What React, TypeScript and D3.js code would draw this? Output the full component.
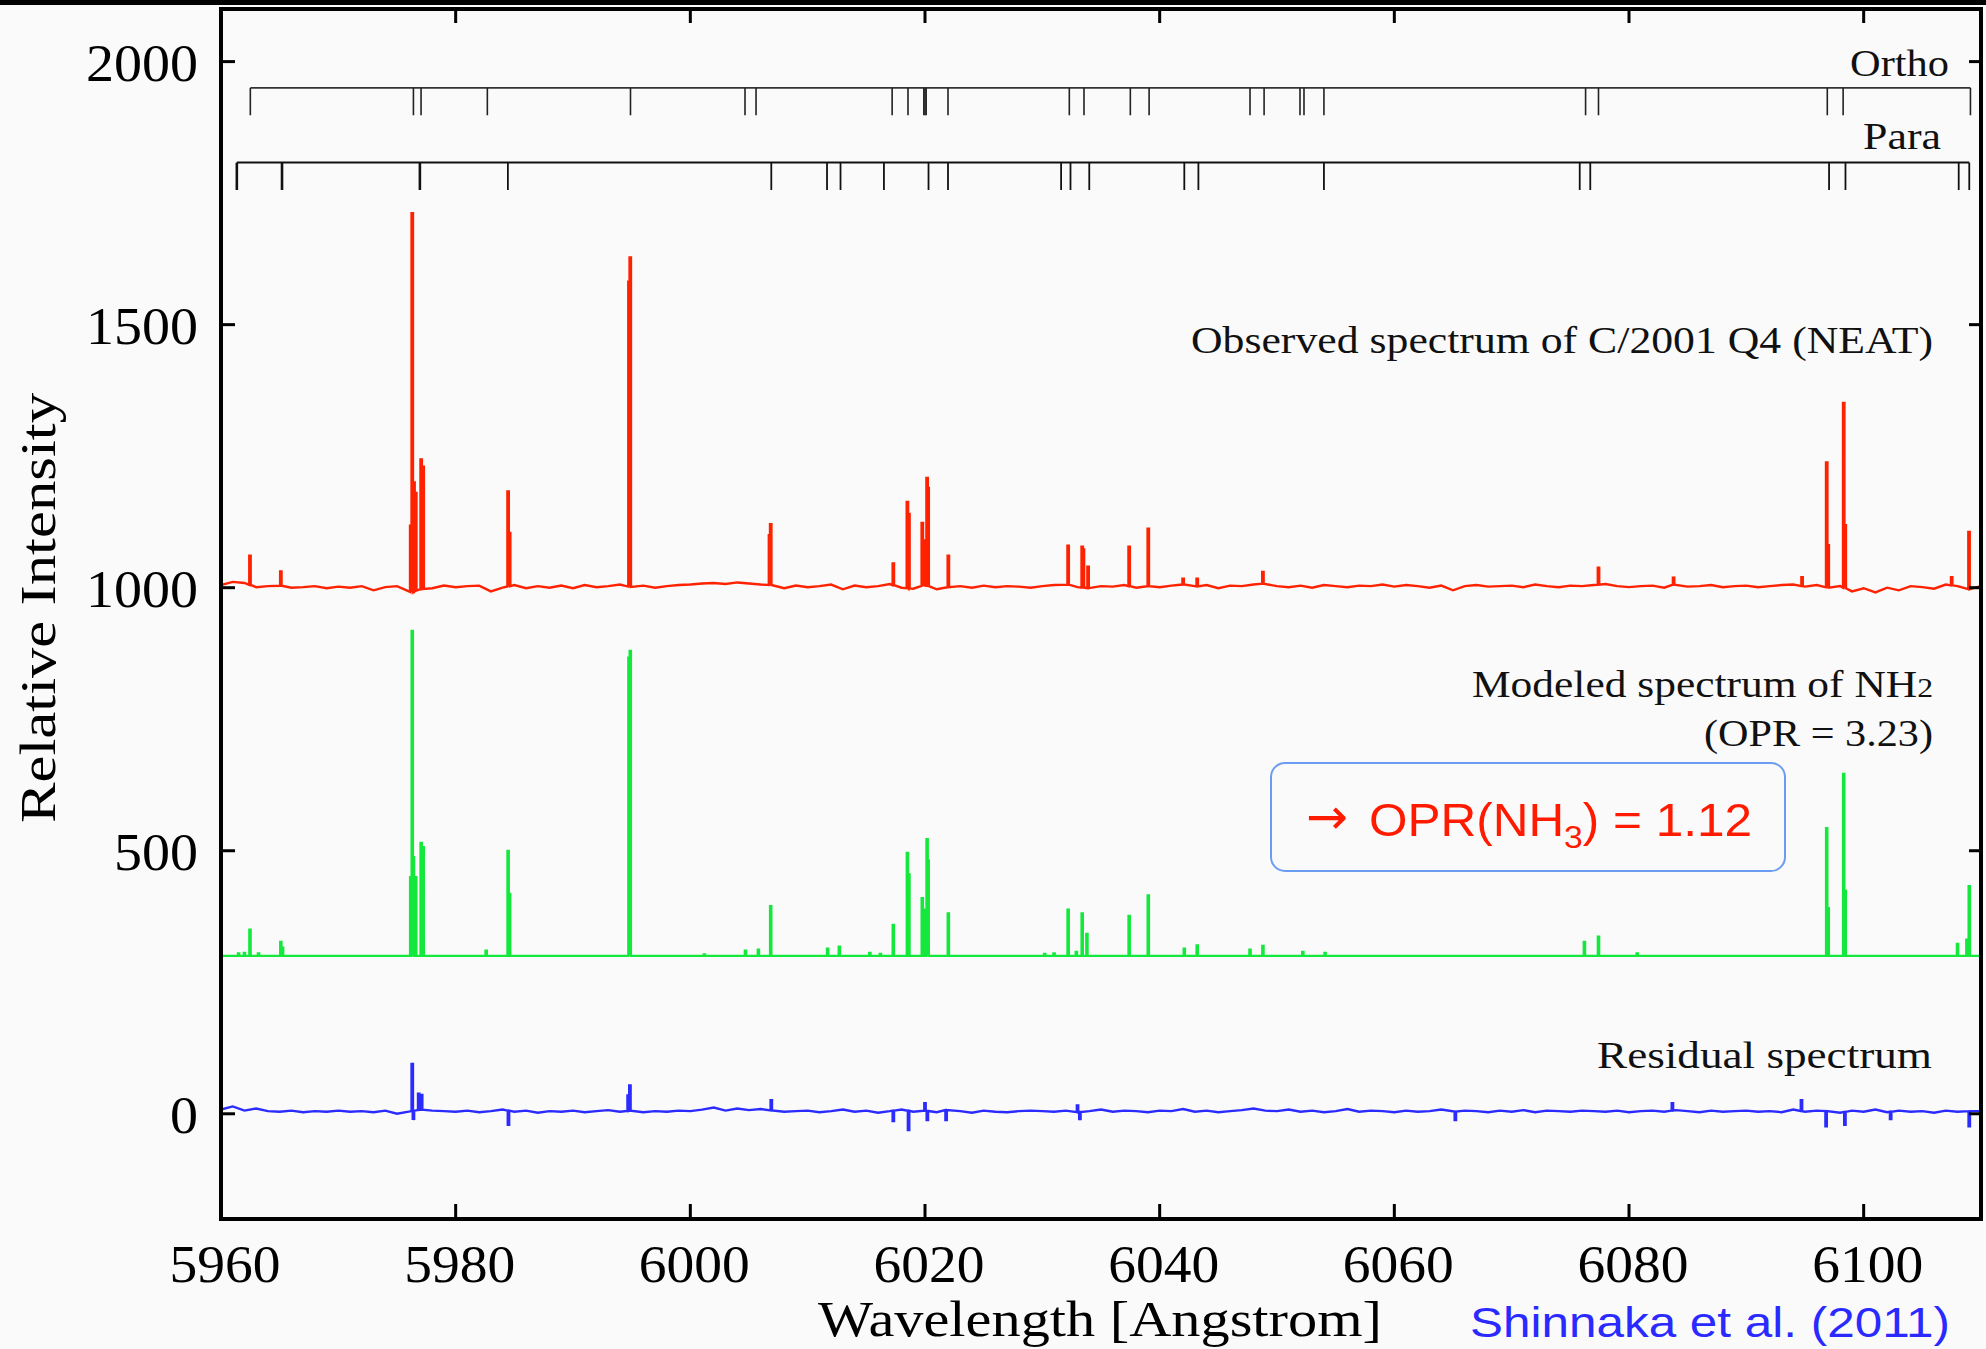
import React from "react";
import * as d3 from "d3";

const W = 1986;
const H = 1349;

const X_DOMAIN: [number, number] = [5960, 6110];
const Y_DOMAIN: [number, number] = [-200, 2100];
const xTicks = [5960, 5980, 6000, 6020, 6040, 6060, 6080, 6100];
const yTicks = [0, 500, 1000, 1500, 2000];

// Line identifications (Angstrom)
const orthoLines = [5962.5, 5976.4, 5977.05, 5982.7, 5994.9, 6004.66, 6005.6, 6017.2, 6018.55, 6019.9, 6020.0, 6020.1, 6021.96, 6032.3, 6033.55, 6037.5, 6039.1, 6047.7, 6048.9, 6051.96, 6052.3, 6054.0, 6076.3, 6077.4, 6096.9, 6098.25, 6109.1];
const paraLines = [5961.35, 5965.2, 5976.95, 5984.45, 6006.9, 6011.65, 6012.8, 6016.5, 6020.3, 6021.96, 6031.6, 6032.4, 6034.0, 6042.1, 6043.3, 6054.0, 6075.8, 6076.7, 6097.05, 6098.45, 6108.1, 6109.0];
const ORTHO_LEVEL = 1950;
const PARA_LEVEL = 1808;
const MARK_DEPTH = 52;

// Observed spectrum (red): emission peaks
const obsPeakWave = [5962.47, 5965.1, 5976.17, 5976.3, 5976.45, 5976.6, 5977.06, 5977.23, 5984.47, 5984.6, 5994.77, 5994.88, 6006.75, 6006.85, 6017.3, 6018.5, 6018.63, 6019.77, 6019.9, 6020.18, 6020.27, 6021.99, 6032.2, 6033.4, 6033.5, 6033.9, 6037.4, 6039.03, 6042.0, 6043.2, 6048.8, 6077.4, 6083.8, 6094.75, 6096.85, 6096.98, 6098.3, 6098.43, 6107.5, 6108.98];
const obsPeakVal = [1061, 1031, 1118, 1712, 1200, 1180, 1244, 1230, 1183, 1104, 1584, 1630, 1102, 1123, 1046, 1163, 1140, 1123, 1090, 1211, 1192, 1061, 1080, 1080, 1075, 1040, 1078, 1112, 1017, 1017, 1030, 1038, 1019, 1020, 1238, 1081, 1351, 1119, 1020, 1106];
// Observed continuum, sampled every 1 A from 5960 to 6110
const obsContinuum = [
  1005, 1011, 1009, 1001, 1003, 1004, 1000, 1001, 1003, 999,
  1002, 1000, 1003, 995, 1001, 1003, 991, 997, 999, 1004,
  1001, 1003, 1004, 993, 1000, 1005, 999, 1003, 1000, 1004,
  999, 1005, 1001, 1003, 1006, 1001, 1004, 1000, 1003, 1005,
  1006, 1008, 1009, 1007, 1010, 1008, 1006, 1005, 999, 1004,
  1001, 1003, 1006, 997, 1004, 1001, 1003, 1007, 1000, 998,
  1005, 997, 1001, 1003, 1000, 1004, 1001, 1003, 1002, 1000,
  1003, 1005, 1007, 1001, 999, 1003, 1002, 1005, 1000, 1003,
  1001, 1004, 1006, 1002, 1005, 999, 1004, 1003, 1006, 1008,
  1003, 1001, 1004, 1000, 1005, 1003, 1001, 1004, 1003, 1006,
  1002, 1005, 1003, 1000, 1004, 995, 1003, 1005, 1002, 1003,
  1004, 1001, 1006, 1003, 1001, 1004, 1003, 1005, 1007, 1003,
  1001, 1003, 1004, 1000, 1007, 1002, 1003, 1005, 1001, 1003,
  1004, 1001, 1003, 1005, 1006, 1002, 1005, 1000, 1003, 993,
  999, 991, 1000, 995, 1003, 1001, 998, 1006, 1003, 997,
  1003,
];

// Modeled NH2 spectrum (green)
const modPeakWave = [5961.5, 5962.0, 5962.47, 5963.2, 5965.1, 5965.25, 5976.17, 5976.3, 5976.4, 5976.6, 5977.06, 5977.23, 5982.6, 5984.47, 5984.6, 5994.77, 5994.88, 6001.2, 6004.7, 6005.8, 6006.85, 6011.7, 6012.7, 6015.3, 6016.2, 6017.3, 6018.5, 6018.63, 6019.77, 6019.97, 6020.18, 6020.27, 6021.99, 6030.2, 6031.0, 6032.2, 6032.9, 6033.4, 6033.8, 6037.4, 6039.03, 6042.1, 6043.2, 6047.7, 6048.8, 6052.2, 6054.1, 6076.2, 6077.4, 6080.7, 6096.85, 6096.98, 6098.3, 6098.43, 6108.0, 6108.8, 6109.0];
const modPeakVal = [305, 306, 350, 305, 327, 316, 450, 920, 490, 450, 515, 507, 310, 500, 418, 869, 882, 303, 310, 312, 395, 314, 318, 306, 304, 359, 496, 455, 410, 388, 524, 484, 381, 304, 305, 388, 308, 381, 342, 376, 415, 314, 320, 312, 319, 308, 306, 327, 337, 305, 543, 391, 646, 424, 323, 331, 433];
const modContinuumWave = [5960, 6110];
const modContinuum = [300, 300];

// Residual spectrum (blue)
const resPeakWave = [5976.3, 5976.4, 5976.85, 5977.1, 5984.5, 5994.7, 5994.85, 6006.9, 6017.3, 6018.6, 6020.0, 6020.2, 6021.8, 6033.0, 6033.2, 6065.2, 6083.7, 6094.7, 6096.8, 6098.4, 6102.3, 6109.0];
const resPeakVal = [97, -12, 38, 36, -21, 35, 54, 26, -14, -31, 20, -12, -12, 16, -10, -12, 20, 26, -24, -21, -10, -24];
const resContinuum = [
  8, 14, 6, 10, 5, 4, 6, 3, 5, 4,
  6, 4, 5, 3, 6, 0, 4, 8, 6, 5,
  4, 6, 3, 5, 8, 4, 6, 2, 5, 4,
  6, 3, 5, 7, 4, 6, 3, 5, 4, 6,
  5, 8, 12, 6, 10, 7, 9, 6, 4, 5,
  6, 3, 5, 8, 4, 6, 2, 5, 8, 4,
  6, 3, 8, 5, 2, 6, 4, 3, 5, 6,
  5, 4, 6, 3, 5, 8, 4, 6, 5, 3,
  6, 5, 9, 4, 6, 3, 5, 7, 10, 6,
  5, 8, 4, 6, 3, 5, 9, 4, 6, 5,
  3, 6, 4, 5, 8, 4, 6, 5, 3, 6,
  4, 7, 3, 6, 5, 4, 6, 5, 4, 6,
  3, 5, 6, 4, 7, 5, 3, 6, 4, 5,
  6, 4, 5, 3, 8, 4, 6, 5, 2, 6,
  4, 8, 3, 6, 4, 5, 2, 6, 4, 5,
  5,
];
const continuumWave = d3.range(5960, 6111, 1);

const SERIF = "'Liberation Serif', 'Times New Roman', Times, serif";
const SANS = "'Liberation Sans', Arial, Helvetica, sans-serif";

function buildSeries(
  contW: number[],
  contV: number[],
  peakW: number[],
  peakV: number[],
  half: number
): [number, number][] {
  const base = d3.scaleLinear().domain(contW).range(contV).clamp(true);
  const pts: [number, number][] = [];
  contW.forEach((w, i) => {
    if (!peakW.some((p) => Math.abs(p - w) < 0.25)) pts.push([w, contV[i]]);
  });
  peakW.forEach((w, i) => {
    const b = base(w);
    pts.push([w - half, b], [w - half, peakV[i]], [w + half, peakV[i]], [w + half, b]);
  });
  return pts
    .map((p, i) => ({ p, i }))
    .sort((a, b) => a.p[0] - b.p[0] || a.i - b.i)
    .map((d) => d.p);
}

export default function App() {
  const x = d3.scaleLinear().domain(X_DOMAIN).range([221, 1981]);
  const y = d3.scaleLinear().domain(Y_DOMAIN).range([1219, 9]);
  const line = d3
    .line<[number, number]>()
    .x((d) => x(d[0]))
    .y((d) => y(d[1]));

  const obs = buildSeries(continuumWave, obsContinuum, obsPeakWave, obsPeakVal, 0.06);
  const mod = buildSeries(modContinuumWave, modContinuum, modPeakWave, modPeakVal, 0.06);
  const res = buildSeries(continuumWave, resContinuum, resPeakWave, resPeakVal, 0.06);

  const [x0, x1] = x.range();
  const [yb, yt] = y.range();

  return (
    <svg
      width={W}
      height={H}
      style={{ position: "absolute", left: 0, top: 0, display: "block" }}
    >
      <rect x={0} y={0} width={W} height={H} fill="#fafafa" />
      <rect x={0} y={0} width={W} height={5} fill="#000" />
      <defs>
        <clipPath id="plotclip">
          <rect x={x0} y={yt} width={x1 - x0} height={yb - yt} />
        </clipPath>
      </defs>

      {/* Ortho / Para identifications */}
      <g>
        <line
          x1={x(orthoLines[0])}
          x2={x(orthoLines[orthoLines.length - 1])}
          y1={y(ORTHO_LEVEL)}
          y2={y(ORTHO_LEVEL)}
          stroke="#333"
          strokeWidth={1.8}
        />
        {orthoLines.map((w, i) => (
          <line
            key={"o" + i}
            x1={x(w)}
            x2={x(w)}
            y1={y(ORTHO_LEVEL)}
            y2={y(ORTHO_LEVEL - MARK_DEPTH)}
            stroke="#222"
            strokeWidth={1.6}
          />
        ))}
        <line
          x1={x(paraLines[0])}
          x2={x(paraLines[paraLines.length - 1])}
          y1={y(PARA_LEVEL)}
          y2={y(PARA_LEVEL)}
          stroke="#111"
          strokeWidth={2}
        />
        {paraLines.map((w, i) => (
          <line
            key={"p" + i}
            x1={x(w)}
            x2={x(w)}
            y1={y(PARA_LEVEL)}
            y2={y(PARA_LEVEL - MARK_DEPTH)}
            stroke="#111"
            strokeWidth={i < 3 ? 2.6 : 1.8}
          />
        ))}
      </g>

      {/* Spectra */}
      <g clipPath="url(#plotclip)" fill="none" strokeLinejoin="miter">
        <path d={line(obs) || ""} stroke="#ff2200" strokeWidth={2.4} />
        <path d={line(mod) || ""} stroke="#14e83c" strokeWidth={2.2} />
        <path d={line(res) || ""} stroke="#2b2bff" strokeWidth={2.4} />
      </g>

      {/* Frame */}
      <rect
        x={x0}
        y={yt}
        width={x1 - x0}
        height={yb - yt}
        fill="none"
        stroke="#000"
        strokeWidth={4}
      />
      {xTicks.slice(1).map((t) => (
        <g key={"xt" + t}>
          <line x1={x(t)} x2={x(t)} y1={yb} y2={yb - 15} stroke="#000" strokeWidth={3} />
          <line x1={x(t)} x2={x(t)} y1={yt} y2={yt + 14} stroke="#000" strokeWidth={3} />
        </g>
      ))}
      {yTicks.map((t) => (
        <g key={"yt" + t}>
          <line x1={x0} x2={x0 + 14} y1={y(t)} y2={y(t)} stroke="#000" strokeWidth={3} />
          <line x1={x1} x2={x1 - 12} y1={y(t)} y2={y(t)} stroke="#000" strokeWidth={3} />
        </g>
      ))}

      {/* tick labels */}
      <g fontFamily={SERIF} fontSize={53} fill="#000">
        {xTicks.map((t) => (
          <text key={"xl" + t} x={x(t) + 4} y={1282} textAnchor="middle" textLength={111} lengthAdjust="spacingAndGlyphs">
            {t}
          </text>
        ))}
        {yTicks.map((t) => (
          <text
            key={"yl" + t}
            x={198}
            y={y(t) + 19}
            textAnchor="end"
            textLength={String(t).length * 28}
            lengthAdjust="spacingAndGlyphs"
          >
            {t}
          </text>
        ))}
      </g>

      {/* axis titles */}
      <text
        x={1100}
        y={1336}
        textAnchor="middle"
        fontFamily={SERIF}
        fontSize={50}
        textLength={564}
        lengthAdjust="spacingAndGlyphs"
      >
        Wavelength [Angstrom]
      </text>
      <text
        transform="translate(55,608) rotate(-90)"
        textAnchor="middle"
        fontFamily={SERIF}
        fontSize={50}
        textLength={430}
        lengthAdjust="spacingAndGlyphs"
      >
        Relative Intensity
      </text>

      {/* annotations */}
      <g fontFamily={SERIF} fontSize={37} fill="#111" textAnchor="end">
        <text x={1949} y={76} textLength={99} lengthAdjust="spacingAndGlyphs">Ortho</text>
        <text x={1941} y={149} textLength={78} lengthAdjust="spacingAndGlyphs">Para</text>
        <text x={1933} y={353} textLength={742} lengthAdjust="spacingAndGlyphs">
          Observed spectrum of C/2001 Q4 (NEAT)
        </text>
        <text x={1933} y={697} textLength={461} lengthAdjust="spacingAndGlyphs">
          Modeled spectrum of NH<tspan fontSize={27}>2</tspan>
        </text>
        <text x={1933} y={746} textLength={229} lengthAdjust="spacingAndGlyphs">
          (OPR = 3.23)
        </text>
        <text x={1932} y={1068} textLength={335} lengthAdjust="spacingAndGlyphs">
          Residual spectrum
        </text>
      </g>

      {/* OPR box */}
      <rect x={1271} y={763} width={514} height={108} rx={14} ry={14} fill="none" stroke="#6a9cf2" strokeWidth={2} />
      <text x={1306} y={834} fontFamily="'DejaVu Sans', sans-serif" fontSize={50} fill="#ff1a00">
        →
      </text>
      <text
        x={1369}
        y={836}
        fontFamily={SANS}
        fontSize={47}
        fill="#ff1a00"
        textLength={383}
        lengthAdjust="spacingAndGlyphs"
      >
        OPR(NH<tspan fontSize={32} dy={12}>3</tspan>
        <tspan dy={-12}>) = 1.12</tspan>
      </text>

      <text
        x={1470}
        y={1337}
        fontFamily={SANS}
        fontSize={42}
        fill="#2a2aff"
        textLength={480}
        lengthAdjust="spacingAndGlyphs"
      >
        Shinnaka et al. (2011)
      </text>
    </svg>
  );
}
